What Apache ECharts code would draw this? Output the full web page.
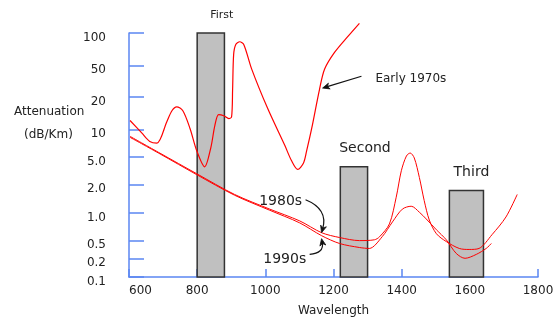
<!DOCTYPE html>
<html>
<head>
<meta charset="utf-8">
<script src="https://cdn.jsdelivr.net/npm/echarts@6/dist/echarts.min.js"></script>
<style>html,body{margin:0;padding:0;background:#fff}#c{width:560px;height:322px}</style>
</head>
<body>
<div id="c"></div>
<script>
// ---- data ----
const yTickValues = [0.1, 0.2, 0.5, 1, 2, 5, 10, 20, 50, 100];
const yTickLabels = ['0.1', '0.2', '0.5', '1.0', '2.0', '5.0', '10', '20', '50', '100'];
const yTickPos = [0, 19, 37, 65, 94, 122, 150, 183, 215, 248];
const xTicks = [600, 800, 1000, 1200, 1400, 1600, 1800];

const windowNames = ['First', 'Second', 'Third'];
const windowStart = [800, 1220, 1540];
const windowEnd = [880, 1300, 1640];
const windowHeight = [100, 3.6, 1.73];

const early1970s = [[603,12.1],[638,9.1],[661,7.4],[682,7.1],[711,11.8],[726,14.9],[740,16.2],[758,14.9],[779,10.2],[799,5.8],[822,3.6],[840,6.3],[852,10.9],[863,13.7],[878,13.4],[893,12.6],[901,13.1],[904,25],[907,63],[913,78],[925,83],[937,78],[960,45],[1007,15.6],[1057,6.7],[1077,4.4],[1095,3.3],[1112,4.1],[1121,5.8],[1136,10.2],[1159,25],[1174,45],[1203,66],[1241,92],[1276,123]];
const s1980s = [[603,8.4],[691,5.5],[799,2.86],[910,1.57],[1013,1.10],[1101,0.82],[1165,0.61],[1218,0.54],[1276,0.50],[1320,0.51],[1335,0.55],[1364,0.76],[1384,1.47],[1399,3.16],[1414,5.13],[1425,5.52],[1437,4.84],[1452,2.52],[1466,1.36],[1481,0.84],[1502,0.594],[1531,0.475],[1569,0.333],[1598,0.316],[1627,0.333],[1665,0.58],[1706,0.906],[1739,1.57]];
const s1990s = [[603,8.2],[691,5.4],[799,2.77],[910,1.54],[1013,1.07],[1101,0.78],[1165,0.566],[1218,0.43],[1276,0.35],[1305,0.333],[1343,0.552],[1373,0.80],[1402,1.10],[1428,1.18],[1452,1.02],[1472,0.862],[1502,0.656],[1531,0.51],[1560,0.258],[1586,0.2],[1619,0.245],[1648,0.333],[1663,0.43]];

// annotations: [wavelength, attenuation]
const labelEarly = [1323, 33.6];
const label1980 = [1045, 1.34];
const label1990 = [1057, 0.19];
// arrows: [fromWavelength, fromAtten, toWavelength, toAtten, bend]
const arrows = [
  [1282, 36.5, 1168, 25.9, 0],
  [1118, 1.38, 1165, 0.61, 0.45],
  [1130, 0.245, 1165, 0.525, -0.55]
];

// ---- map attenuation to the chart's (non-uniform) vertical scale ----
function pos(a) {
  const l = Math.log10(a);
  const n = yTickValues.length;
  for (let i = 0; i < n - 1; i++) {
    const l0 = Math.log10(yTickValues[i]), l1 = Math.log10(yTickValues[i + 1]);
    if (l <= l1 || i === n - 2) {
      return yTickPos[i] + (l - l0) / (l1 - l0) * (yTickPos[i + 1] - yTickPos[i]);
    }
  }
}
const toXY = d => [d[0], pos(d[1])];

const font = 'DejaVu Sans';
const axisBlue = '#5b86f2';
const chart = echarts.init(document.getElementById('c'));

const windowData = windowNames.map((n, i) => [windowStart[i], windowEnd[i], pos(windowHeight[i]), n]);
const arrowData = arrows.map(a => [a[0], pos(a[1]), a[2], pos(a[3]), a[4]]);

chart.setOption({
  animation: false,
  grid: { left: 129, right: 22, top: 33, bottom: 41 },
  xAxis: {
    type: 'value', min: 600, max: 1800, interval: 200,
    name: 'Wavelength', nameLocation: 'middle', nameGap: 28,
    nameTextStyle: { fontFamily: font, fontSize: 12, color: '#222' },
    axisLine: { lineStyle: { color: axisBlue, width: 1.5 } },
    axisTick: { inside: true, length: 8, lineStyle: { color: axisBlue, width: 1.5 } },
    axisLabel: { fontFamily: font, fontSize: 12, color: '#222', margin: 8, alignMinLabel: 'left',
      formatter: v => String(v) },
    splitLine: { show: false }
  },
  yAxis: {
    type: 'value', min: 0, max: 248,
    axisLine: { show: true, lineStyle: { color: axisBlue, width: 1.5 } },
    axisTick: { show: true, inside: true, length: 15, customValues: yTickPos, lineStyle: { color: axisBlue, width: 1.5 } },
    axisLabel: {
      fontFamily: font, fontSize: 12, color: '#222', margin: 23, customValues: yTickPos,
      verticalAlign: 'top', lineHeight: 9,
      formatter: v => {
        let best = 0;
        yTickPos.forEach((p, i) => { if (Math.abs(p - v) < Math.abs(yTickPos[best] - v)) best = i; });
        return yTickLabels[best];
      }
    },
    splitLine: { show: false }
  },
  graphic: [
    { type: 'text', left: 14, top: 106, style: { text: 'Attenuation', font: '12px "DejaVu Sans"', fill: '#222' } },
    { type: 'text', left: 24, top: 129, style: { text: '(dB/Km)', font: '12px "DejaVu Sans"', fill: '#222' } }
  ],
  series: [
    {
      type: 'custom', z: 1, clip: false,
      data: windowData,
      renderItem: (params, api) => {
        const p0 = api.coord([api.value(0), api.value(2)]);
        const p1 = api.coord([api.value(1), 0]);
        const idx = params.dataIndex;
        return {
          type: 'group',
          children: [
            { type: 'rect', shape: { x: p0[0], y: p0[1], width: p1[0] - p0[0], height: p1[1] - p0[1] },
              style: { fill: '#c0c0c0', stroke: '#333', lineWidth: 1.5 } },
            { type: 'text', style: { text: windowNames[idx], x: (p0[0] + p1[0]) / 2 + (idx === 2 ? 5 : 11), y: p0[1] - 18,
              align: 'center', verticalAlign: 'middle',
              font: (idx === 0 ? '11px' : '14px') + ' "DejaVu Sans"', fill: '#222' } }
          ]
        };
      }
    },
    {
      type: 'custom', z: 5, clip: false, silent: true,
      data: arrowData,
      renderItem: (params, api) => {
        const s = api.coord([api.value(0), api.value(1)]);
        const t = api.coord([api.value(2), api.value(3)]);
        const c = api.value(4);
        const mx = (s[0] + t[0]) / 2, my = (s[1] + t[1]) / 2;
        const cp = [mx - (s[1] - t[1]) * c, my - (t[0] - s[0]) * c];
        let dx = t[0] - cp[0], dy = t[1] - cp[1];
        const len = Math.hypot(dx, dy); dx /= len; dy /= len;
        const L = 7, W = 3;
        const base = [t[0] - dx * L, t[1] - dy * L];
        const head = [[t[0], t[1]], [base[0] - dy * W, base[1] + dx * W], [base[0] + dx * 2, base[1] + dy * 2], [base[0] + dy * W, base[1] - dx * W]];
        return {
          type: 'group',
          children: [
            { type: 'bezierCurve', shape: { x1: s[0], y1: s[1], x2: t[0] - dx * 4, y2: t[1] - dy * 4, cpx1: cp[0], cpy1: cp[1] },
              style: { stroke: '#111', lineWidth: 1.2, fill: null } },
            { type: 'polygon', shape: { points: head }, style: { fill: '#111', stroke: '#111', lineWidth: 0.8 } }
          ]
        };
      }
    },
    {
      name: 'Early 1970s', type: 'line', z: 3, clip: false, showSymbol: false, symbol: 'none', smooth: 0.3,
      data: early1970s.map(toXY),
      lineStyle: { color: '#ff0000', width: 1.2 },
      markPoint: {
        symbol: 'circle', symbolSize: 0, silent: true,
        data: [
          { coord: toXY(labelEarly), label: { show: true, formatter: 'Early 1970s', position: 'right', distance: 0, fontFamily: font, fontSize: 12, color: '#222' } },
          { coord: toXY(label1980), label: { show: true, formatter: '1980s', position: 'inside', fontFamily: font, fontSize: 14, color: '#222' } },
          { coord: toXY(label1990), label: { show: true, formatter: '1990s', position: 'inside', fontFamily: font, fontSize: 14, color: '#222' } }
        ]
      }
    },
    {
      name: '1980s', type: 'line', z: 3, clip: false, symbol: 'none', smooth: 0.3,
      data: s1980s.map(toXY),
      lineStyle: { color: '#ff0000', width: 1 }
    },
    {
      name: '1990s', type: 'line', z: 3, clip: false, symbol: 'none', smooth: 0.3,
      data: s1990s.map(toXY),
      lineStyle: { color: '#ff0000', width: 1 }
    }
  ]
});
</script>
</body>
</html>
